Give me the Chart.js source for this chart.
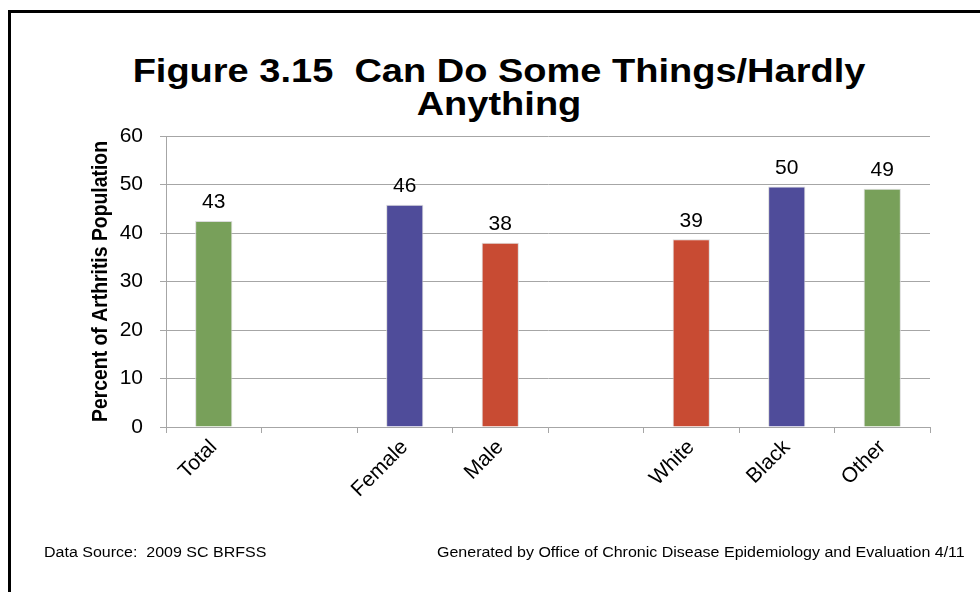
<!DOCTYPE html>
<html>
<head>
<meta charset="utf-8">
<script src="https://cdn.jsdelivr.net/npm/chart.js@4.4.1/dist/chart.umd.min.js"></script>
<style>
    html, body { margin: 0; padding: 0; background: #fff; overflow: hidden; }
    body { width: 980px; height: 592px; position: relative; font-family: "Liberation Sans", Arial, sans-serif; }
    #frame { position: absolute; left: 8px; top: 10px; width: 1100px; height: 700px; border: 3px solid #000; }
    #title { position: absolute; left: 0; top: 54px; width: 998px; text-align: center; font-weight: bold; font-size: 38px; line-height: 38px; color: #000; transform: scaleY(0.87); transform-origin: 0 0; }
    .foot { position: absolute; top: 545px; font-size: 16px; line-height: 15px; color: #000; white-space: pre; transform: scaleY(0.9); transform-origin: 0 0; }
    #chart { position: absolute; left: 0; top: 0; }
</style>
</head>
<body>
<div id="frame"></div>
<div id="title">Figure 3.15&nbsp; Can Do Some Things/Hardly<br>Anything</div>
<canvas id="chart" width="980" height="592"></canvas>
<div class="foot" style="left:44px">Data Source:  2009 SC BRFSS</div>
<div class="foot" style="left:437px">Generated by Office of Chronic Disease Epidemiology and Evaluation 4/11</div>
<script>
// categories (blank entries are the gaps between groups)
var categories = ['Total', '', 'Female', 'Male', '', 'White', 'Black', 'Other'];
// percent of arthritis population
var percents = [42.5, null, 45.8, 38.0, null, 38.7, 49.6, 49.1];
var barColors = ['#78A05A', '#fff', '#4F4C9A', '#C84B33', '#fff', '#C84B33', '#4F4C9A', '#78A05A'];
var yTicks = [0, 10, 20, 30, 40, 50, 60];
var yTitle = 'Percent of Arthritis Population';

var GRID = '#A6A6A6';
var FONT = '"Liberation Sans", Arial, sans-serif';

// draws the rounded value above each bar
var valueLabels = {
    id: 'valueLabels',
    afterDatasetsDraw: function (chart) {
        var ctx = chart.ctx;
        var meta = chart.getDatasetMeta(0);
        ctx.save();
        ctx.font = '21px ' + FONT;
        ctx.fillStyle = '#000';
        ctx.textAlign = 'center';
        ctx.textBaseline = 'bottom';
        for (var i = 0; i < meta.data.length; i++) {
            var v = percents[i];
            if (v === null) continue;
            var bar = meta.data[i];
            ctx.fillText(String(Math.round(v)), bar.x, bar.y - 8);
        }
        ctx.restore();
    }
};

// condensed bold y axis title, spans the plot height
var axisTitle = {
    id: 'axisTitle',
    afterDraw: function (chart) {
        var ctx = chart.ctx;
        var area = chart.chartArea;
        ctx.save();
        ctx.font = 'bold 22px ' + FONT;
        ctx.fillStyle = '#000';
        ctx.textAlign = 'center';
        ctx.textBaseline = 'middle';
        var w = ctx.measureText(yTitle).width;
        var len = area.bottom - area.top - 10;
        ctx.translate(101, (area.top + area.bottom) / 2);
        ctx.rotate(-Math.PI / 2);
        ctx.scale(len / w, 1);
        ctx.fillText(yTitle, 0, 0);
        ctx.restore();
    }
};

new Chart(document.getElementById('chart'), {
    type: 'bar',
    data: {
        labels: categories,
        datasets: [{
            data: percents,
            backgroundColor: barColors,
            borderColor: 'rgba(215,215,215,0.9)',
            borderWidth: { left: 1, right: 1, top: 1, bottom: 0 },
            barPercentage: 0.39,
            categoryPercentage: 1
        }]
    },
    options: {
        responsive: false,
        animation: false,
        events: [],
        layout: { padding: { left: 88, right: 50, top: 136, bottom: 0 } },
        plugins: { legend: { display: false }, title: { display: false }, tooltip: { enabled: false } },
        scales: {
            x: {
                afterFit: function (s) { s.height = 165; },
                grid: { drawOnChartArea: false, drawTicks: true, tickLength: 6, color: GRID, offset: true },
                border: { color: GRID, width: 1 },
                ticks: {
                    color: '#000',
                    font: { family: FONT, size: 21 },
                    minRotation: 45,
                    maxRotation: 45,
                    autoSkip: false,
                    padding: 2
                }
            },
            y: {
                min: 0,
                max: 60,
                afterFit: function (s) { s.width = 78; },
                afterBuildTicks: function (s) { s.ticks = yTicks.map(function (v) { return { value: v }; }); },
                grid: { color: GRID, tickLength: 6 },
                border: { color: GRID, width: 1 },
                ticks: {
                    color: '#000',
                    font: { family: FONT, size: 21 },
                    padding: 17
                }
            }
        }
    },
    plugins: [valueLabels, axisTitle]
});
</script>
</body>
</html>
